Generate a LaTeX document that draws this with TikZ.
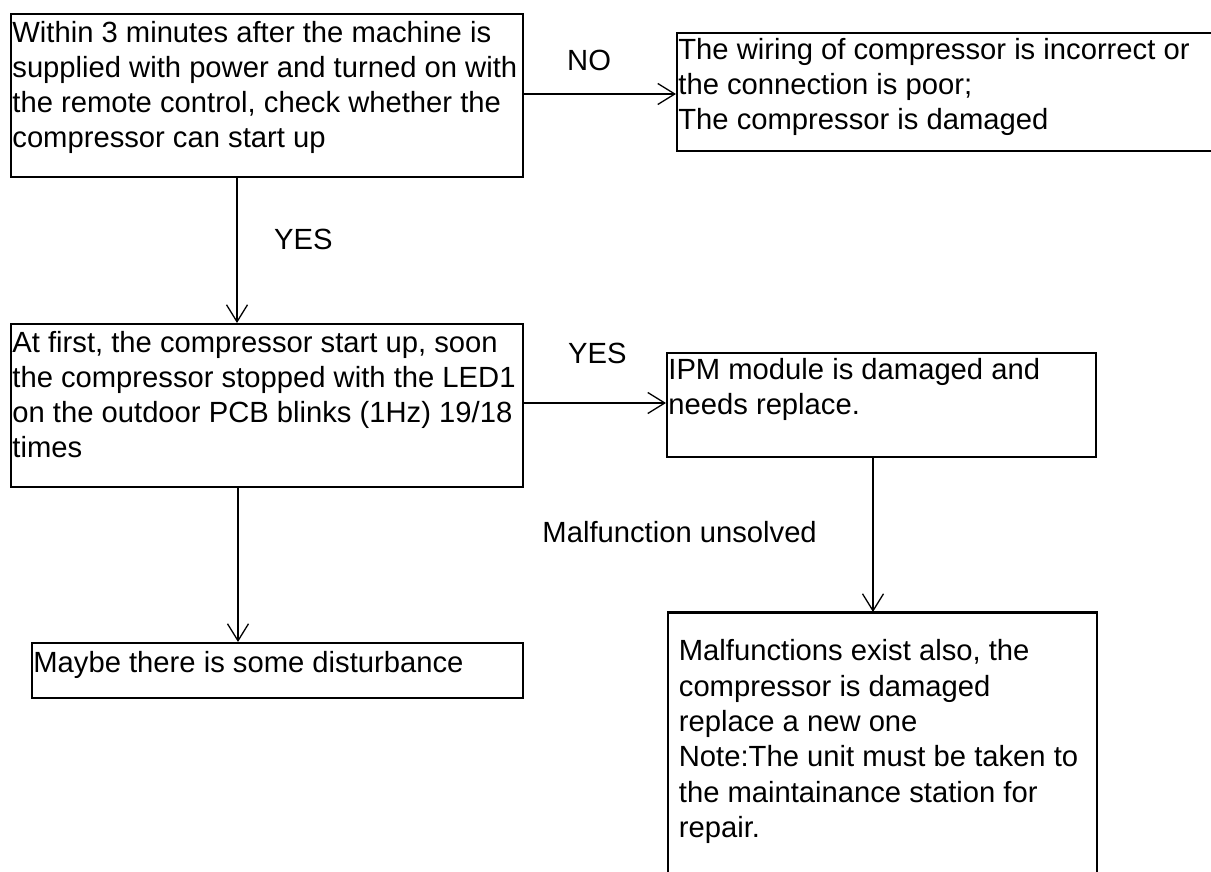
\documentclass[tikz,border=0pt]{standalone}
\usepackage{fontspec}
\setmainfont{Liberation Sans}
\usetikzlibrary{arrows.meta}
\newcommand\bxt[4]{\parbox[t][#2][t]{#1}{\raggedright\rule{0pt}{#3}#4}}
\begin{document}
\begin{tikzpicture}[x=1pt,y=-1pt,
  box/.style={draw, line width=1.8pt, inner xsep=1.5pt, inner ysep=0pt, anchor=north west,
    font=\fontsize{29.2}{35}\selectfont},
  conn/.style={line width=1.3pt, -{Straight Barb[length=17pt,width=21pt,line width=1.3pt]}},
  lbl/.style={font=\fontsize{29.2}{35}\selectfont, inner sep=0pt}]
\useasboundingbox (0,0) rectangle (1211,872);

\node[box] (b1) at (10,13) {\bxt{509pt}{163pt}{29pt}{\mbox{Within 3 minutes after the machine is}\\\mbox{supplied with power and turned on with}\\\mbox{the remote control, check whether the}\\\mbox{compressor can start up}}};

\node[box] (b2) at (676,32) {\bxt{542pt}{118pt}{27pt}{\mbox{The wiring of compressor is incorrect or}\\\mbox{the connection is poor;}\\\mbox{The compressor is damaged}}};

\node[box] (b3) at (10,323) {\bxt{509pt}{163pt}{29pt}{\mbox{At first, the compressor start up, soon}\\\mbox{the compressor stopped with the LED1}\\\mbox{on the outdoor PCB blinks (1Hz) 19/18}\\\mbox{times}}};

\node[box] (b4) at (666,352) {\bxt{426pt}{104pt}{27pt}{\mbox{IPM module is damaged and}\\\mbox{needs replace.}}};

\node[box] (b5) at (31,642) {\bxt{488pt}{55pt}{30pt}{\mbox{Maybe there is some disturbance}}};

\node[box, inner xsep=11pt, font=\fontsize{29.2}{35.3}\selectfont] (b6) at (667,612) {\bxt{407pt}{268pt}{48pt}{\mbox{Malfunctions exist also, the}\\\mbox{compressor is damaged}\\\mbox{replace a new one}\\\mbox{Note:The unit must be taken to}\\\mbox{the maintainance station for}\\\mbox{repair.}}};
\draw[line width=3pt] (b6.north west) -- (b6.north east);

\node[lbl, anchor=base west] (no) at (567,71) {NO};
\node[lbl, anchor=base west] (yes1) at (274,249) {YES};
\node[lbl, anchor=base west] (yes2) at (568,363) {YES};
\node[lbl, anchor=base east] (mu) at (817,542) {Malfunction unsolved};

\coordinate (x1) at (237,0);
\coordinate (x2) at (238,0);
\coordinate (x3) at (873,0);
\coordinate (y1) at (0,94);
\coordinate (y2) at (0,403);
\draw[conn] (b1.south -| x1) -- (b3.north -| x1);
\draw[conn] (b1.east |- y1) -- (b2.west |- y1);
\draw[conn] (b3.east |- y2) -- (b4.west |- y2);
\draw[conn] (b3.south -| x2) -- (b5.north -| x2);
\draw[conn] (b4.south -| x3) -- (b6.north -| x3);
\end{tikzpicture}
\end{document}
